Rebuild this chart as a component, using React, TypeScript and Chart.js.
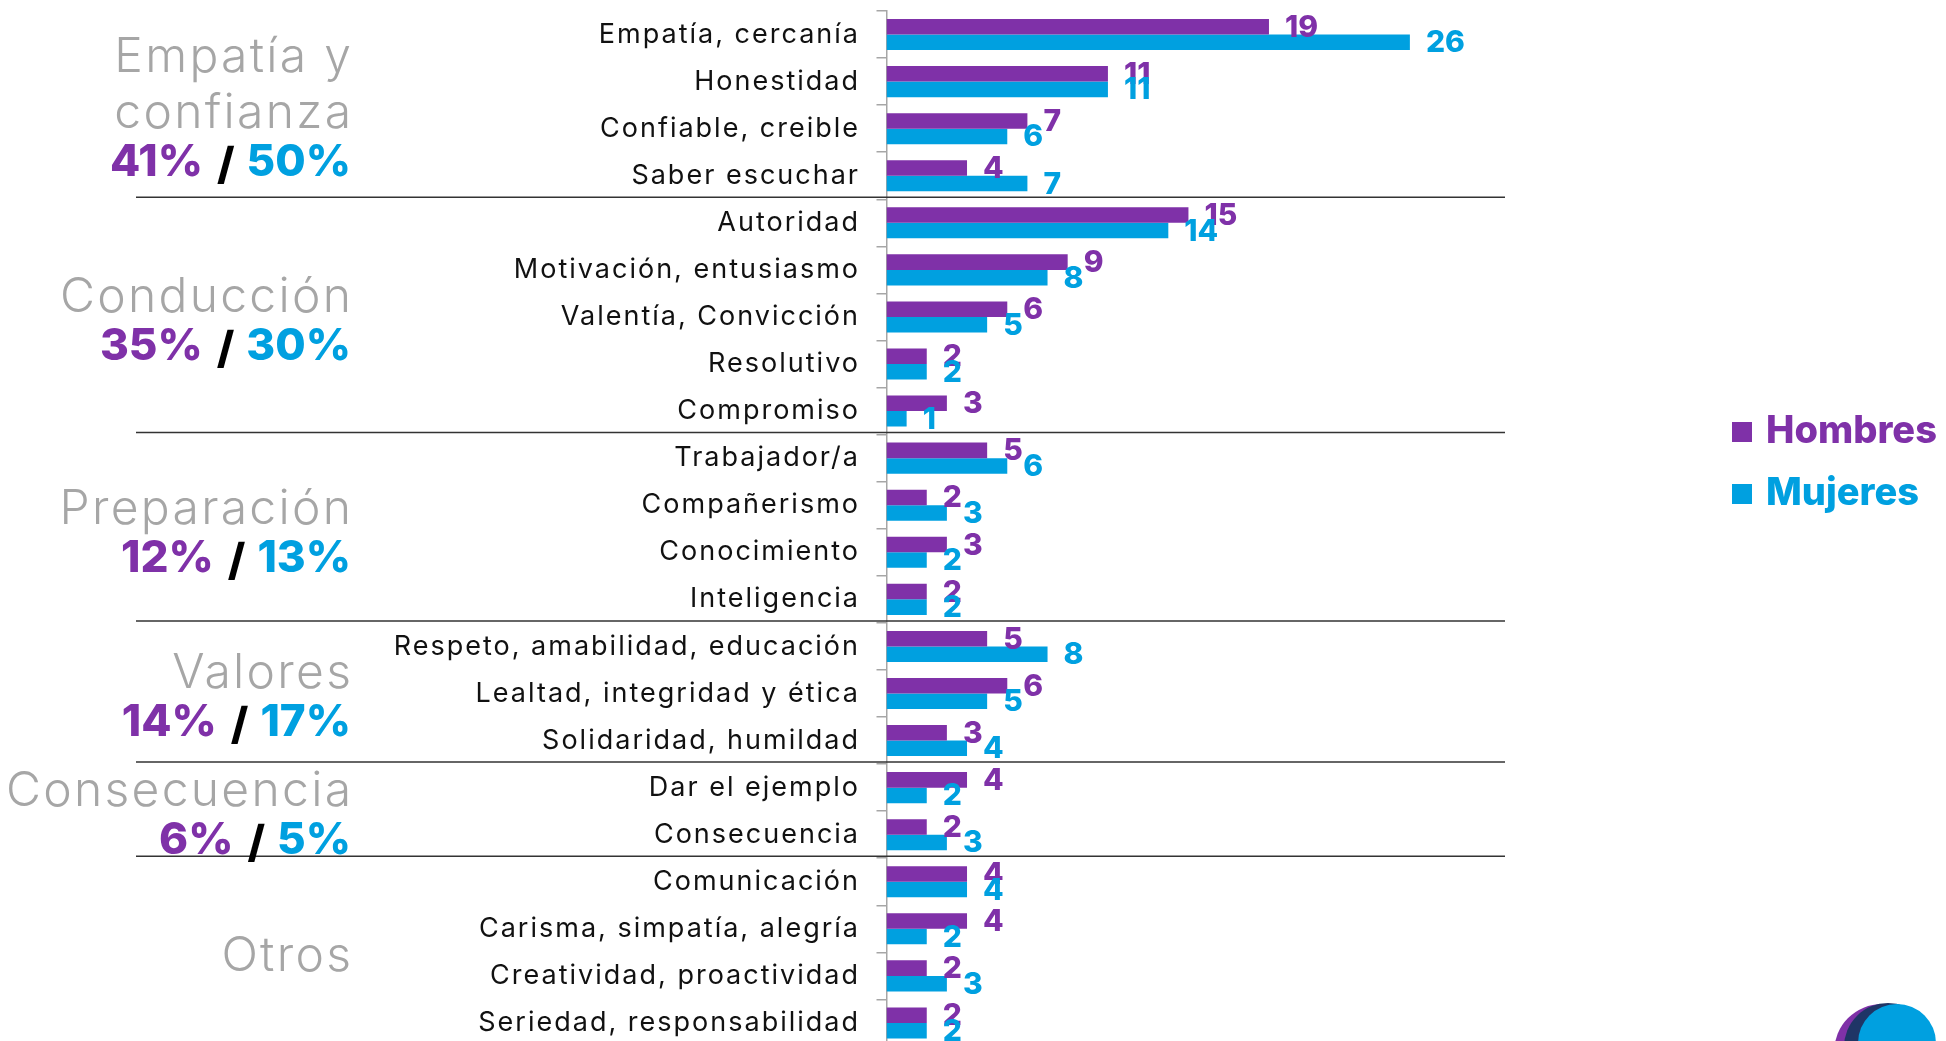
import React, { useEffect, useRef } from "react";
import { Chart, registerables } from "chart.js";

Chart.register(...registerables);

const categories = [
  "Empatía, cercanía",
  "Honestidad",
  "Confiable, creible",
  "Saber escuchar",
  "Autoridad",
  "Motivación, entusiasmo",
  "Valentía, Convicción",
  "Resolutivo",
  "Compromiso",
  "Trabajador/a",
  "Compañerismo",
  "Conocimiento",
  "Inteligencia",
  "Respeto, amabilidad, educación",
  "Lealtad, integridad y ética",
  "Solidaridad, humildad",
  "Dar el ejemplo",
  "Consecuencia",
  "Comunicación",
  "Carisma, simpatía, alegría",
  "Creatividad, proactividad",
  "Seriedad, responsabilidad",
];
const hombres = [19, 11, 7, 4, 15, 9, 6, 2, 3, 5, 2, 3, 2, 5, 6, 3, 4, 2, 4, 4, 2, 2];
const mujeres = [26, 11, 6, 7, 14, 8, 5, 2, 1, 6, 3, 2, 2, 8, 5, 4, 2, 3, 4, 2, 3, 2];
const seriesNames = ["Hombres", "Mujeres"];

const groupSizes = [4, 5, 4, 3, 2, 4];
const groupTitles = [
  ["Empatía y", "confianza"],
  ["Conducción"],
  ["Preparación"],
  ["Valores"],
  ["Consecuencia"],
  ["Otros"],
];
const groupHombresPct = ["41%", "35%", "12%", "14%", "6%", ""];
const groupMujeresPct = ["50%", "30%", "13%", "17%", "5%", ""];

const xMax = 30;

const PURPLE = "#7F31A8";
const BLUE = "#00A0E0";
const GRAY = "#A6A6A6";
const W = 1946;
const H = 1050;

const decorPlugin = {
  id: "decor",
  beforeDraw(chart: any) {
    const ctx = chart.ctx;
    ctx.fillStyle = "#fff";
    ctx.fillRect(0, 0, chart.width, chart.height);
    (ctx as any).letterSpacing = "2px";
  },
  afterDatasetsDraw(chart: any) {
    const ctx = chart.ctx;
    ctx.save();
    (ctx as any).letterSpacing = "0px";
    ctx.font = "800 30px Inter";
    ctx.textAlign = "left";
    ctx.textBaseline = "middle";
    chart.data.datasets.forEach((ds: any, di: number) => {
      const meta = chart.getDatasetMeta(di);
      ctx.fillStyle = ds.backgroundColor;
      meta.data.forEach((el: any, i: number) => {
        ctx.fillText(String(ds.data[i]), el.x + 16, el.y + 1);
      });
    });
    ctx.restore();
  },
  afterDraw(chart: any) {
    const ctx = chart.ctx;
    const y = chart.scales.y;
    const step = y.getPixelForValue(1) - y.getPixelForValue(0);
    ctx.save();
    (ctx as any).letterSpacing = "0px";

    // separators
    ctx.strokeStyle = "#333";
    ctx.lineWidth = 1.5;
    let idx = 0;
    groupSizes.forEach((n, g) => {
      const start = idx;
      const end = idx + n - 1;
      idx += n;
      if (g < groupSizes.length - 1) {
        const yy = y.getPixelForValue(end) + step / 2 - 2;
        ctx.beginPath();
        ctx.moveTo(136, yy);
        ctx.lineTo(1505, yy);
        ctx.stroke();
      }
      // group labels
      const center = (y.getPixelForValue(start) + y.getPixelForValue(end)) / 2;
      const titles = groupTitles[g];
      const hasPct = groupHombresPct[g] !== "";
      const blockH = 32 + (titles.length - 1) * 56 + (hasPct ? 48 : 0);
      let base = center - blockH / 2 + 32 + 3;
      const rightX = 351;
      ctx.textAlign = "right";
      ctx.textBaseline = "alphabetic";
      titles.forEach((t, k) => {
        (ctx as any).letterSpacing = "2.3px";
        ctx.font = "300 48px Inter";
        ctx.fillStyle = GRAY;
        ctx.fillText(t, rightX + 2.3, base);
        if (k < titles.length - 1) base += 56;
      });
      if (hasPct) {
        base += 48;
        (ctx as any).letterSpacing = "0px";
        ctx.font = "800 44px Inter";
        let x = rightX;
        ctx.fillStyle = BLUE;
        ctx.fillText(groupMujeresPct[g], x, base);
        x -= ctx.measureText(groupMujeresPct[g]).width + 12;
        ctx.fillStyle = "#000";
        ctx.fillText("/", x, base + 3);
        x -= ctx.measureText("/").width + 14;
        ctx.fillStyle = PURPLE;
        ctx.fillText(groupHombresPct[g], x, base);
      }
    });

    // legend
    (ctx as any).letterSpacing = "0px";
    ctx.font = "800 38px Inter";
    ctx.textAlign = "left";
    ctx.textBaseline = "alphabetic";
    const legendColors = [PURPLE, BLUE];
    const legendTops = [422, 484];
    seriesNames.forEach((name, i) => {
      ctx.fillStyle = legendColors[i];
      ctx.fillRect(1732, legendTops[i], 20, 20);
      ctx.fillText(name, 1766, legendTops[i] + 21);
    });

    // logo (partial, bottom-right)
    ctx.fillStyle = PURPLE;
    ctx.beginPath();
    ctx.arc(1882, 1052, 48, 0, Math.PI * 2);
    ctx.fill();
    ctx.fillStyle = "#1F3566";
    ctx.beginPath();
    ctx.arc(1888, 1047, 44, 0, Math.PI * 2);
    ctx.fill();
    ctx.fillStyle = BLUE;
    ctx.beginPath();
    ctx.arc(1897, 1043, 39, 0, Math.PI * 2);
    ctx.fill();

    ctx.restore();
    (ctx as any).letterSpacing = "0px";
  },
};

export default function App() {
  const ref = useRef<HTMLCanvasElement | null>(null);
  useEffect(() => {
    if (!ref.current) return;
    const chart = new Chart(ref.current, {
      type: "bar",
      data: {
        labels: categories,
        datasets: [
          { label: seriesNames[0], data: hombres, backgroundColor: PURPLE, borderWidth: 0 },
          { label: seriesNames[1], data: mujeres, backgroundColor: BLUE, borderWidth: 0 },
        ],
      },
      options: {
        indexAxis: "y",
        responsive: false,
        animation: false,
        devicePixelRatio: 1,
        layout: { padding: { top: 11, bottom: 3.5, left: 0, right: W - (886.5 + 30 * 20.13) } },
        datasets: { bar: { barPercentage: 1, categoryPercentage: 0.66 } },
        plugins: { legend: { display: false }, tooltip: { enabled: false } },
        scales: {
          x: { display: false, min: 0, max: xMax },
          y: {
            position: "left",
            afterFit: (scale: any) => {
              scale.width = 886.5;
              scale.paddingTop = 0;
              scale.paddingBottom = 0;
            },
            grid: {
              display: true,
              drawOnChartArea: false,
              drawTicks: true,
              tickLength: 10,
              color: GRAY,
              lineWidth: 1.5,
              offset: true,
            },
            border: { display: true, color: GRAY, width: 1.5 },
            ticks: {
              autoSkip: false,
              padding: 16.5,
              color: "#111",
              font: { family: "Inter", size: 27, weight: "400" },
            },
          },
        },
      } as any,
      plugins: [decorPlugin],
    });
    return () => chart.destroy();
  }, []);
  return (
    <div style={{ position: "fixed", left: 0, top: 0, width: W, height: 1041, overflow: "hidden", background: "#fff" }}>
      <canvas ref={ref} width={W} height={H} style={{ display: "block", width: W, height: H }} />
    </div>
  );
}
